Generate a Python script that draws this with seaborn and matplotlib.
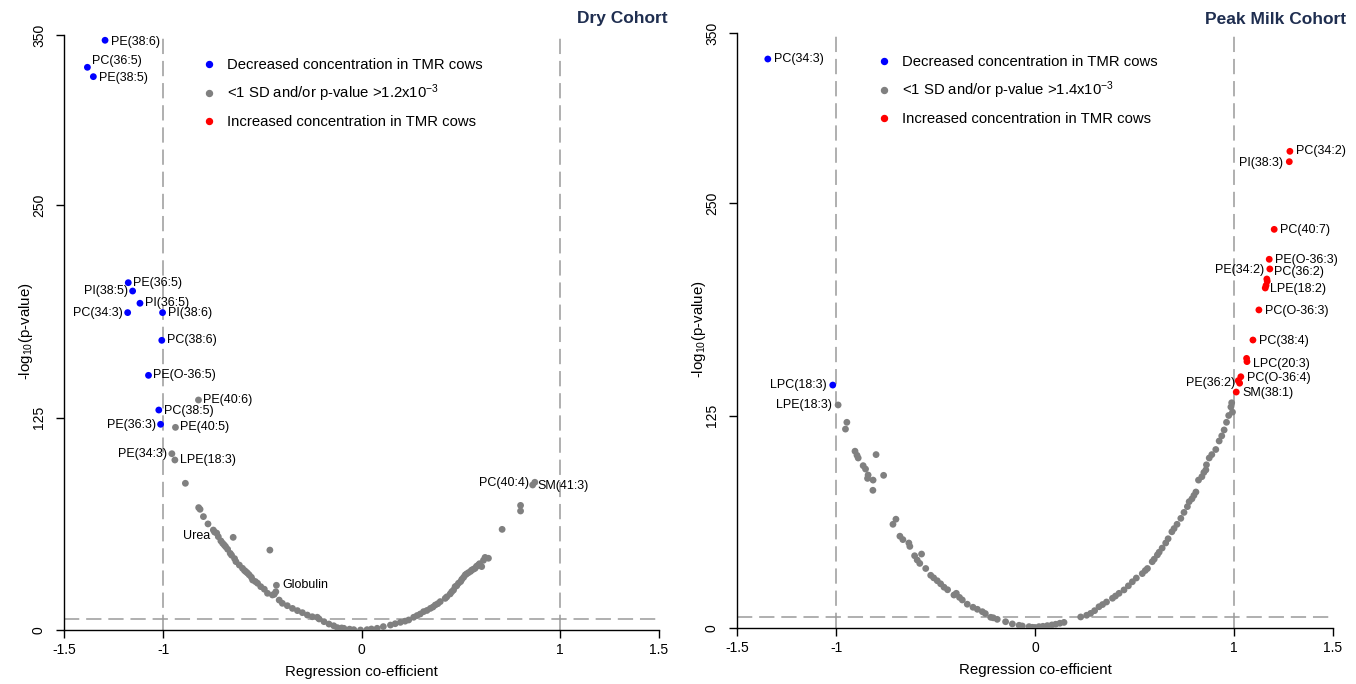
import numpy as np
import pandas as pd
import matplotlib
matplotlib.use('Agg')
import matplotlib.pyplot as plt
from matplotlib.lines import Line2D
import seaborn as sns

# ---- Dry cohort ----
dry_names = ["PE(38:6)", "PC(36:5)", "PE(38:5)", "PE(36:5)", "PI(38:5)", "PI(36:5)",
             "PC(34:3)", "PI(38:6)", "PC(38:6)", "PE(O-36:5)", "PC(38:5)", "PE(36:3)",
             "PE(40:6)", "PE(40:5)", "PE(34:3)", "LPE(18:3)", "Urea", "Globulin",
             "PC(40:4)", "SM(41:3)"]
dry_nx = [-1.293, -1.382, -1.352, -1.176, -1.154, -1.117, -1.179, -1.003, -1.007, -1.074,
          -1.022, -1.013, -0.822, -0.938, -0.956, -0.941, -0.741, -0.429, 0.863, 0.874]
dry_ny = [346.9, 331.0, 325.5, 204.3, 199.4, 192.2, 186.7, 186.7, 170.4, 149.8,
          129.4, 121.0, 135.3, 119.2, 103.7, 100.0, 57.6, 26.3, 85.3, 86.9]
dry_ngroup = ["down"] * 12 + ["ns"] * 8

dry_bg_x = [-0.888, -0.821, -0.814, -0.797, -0.774, -0.747, -0.73, -0.722, -0.709, -0.70,
            -0.692, -0.685, -0.675, -0.662, -0.655, -0.647, -0.64, -0.633, -0.616, -0.60,
            -0.59, -0.583, -0.575, -0.566, -0.555, -0.549, -0.535, -0.524, -0.508, -0.49,
            -0.474, -0.462, -0.449, -0.44, -0.432, -0.415, -0.399, -0.374, -0.348, -0.323,
            -0.298, -0.273, -0.248, -0.223, -0.214, -0.189, -0.164, -0.14, -0.122, -0.10,
            -0.089, -0.06, -0.039, -0.005, 0.028, 0.05, 0.079, 0.11, 0.146, 0.17,
            0.196, 0.22, 0.238, 0.263, 0.28, 0.296, 0.313, 0.33, 0.347, 0.36,
            0.372, 0.385, 0.397, 0.422, 0.43, 0.447, 0.455, 0.464, 0.472, 0.48,
            0.489, 0.50, 0.506, 0.515, 0.523, 0.53, 0.539, 0.55, 0.556, 0.565,
            0.573, 0.58, 0.589, 0.595, 0.606, 0.615, 0.623, 0.640, 0.709, 0.802, 0.802]
dry_bg_y = [86.3, 72.0, 71.0, 66.7, 62.4, 58.8, 57.0, 54.9, 52.4, 51.0,
            50.0, 49.0, 47.5, 45.1, 44.0, 54.5, 42.0, 40.2, 38.2, 36.3,
            35.0, 34.3, 33.5, 32.4, 31.0, 29.4, 28.5, 27.5, 25.5, 24.0,
            21.6, 47.0, 20.6, 21.0, 22.5, 17.6, 15.7, 14.3, 12.7, 11.4,
            10.2, 8.8, 7.8, 7.5, 6.5, 4.9, 3.5, 2.5, 1.4, 1.2,
            1.0, 0.5, 0.2, 0.0, 0.2, 0.6, 1.0, 2.0, 2.9, 3.7,
            4.5, 5.2, 5.9, 7.5, 8.5, 9.4, 10.8, 11.5, 12.7, 13.5,
            14.7, 15.5, 16.7, 18.6, 19.5, 21.2, 22.5, 23.5, 25.5, 26.0,
            27.5, 28.5, 29.8, 31.0, 32.4, 33.0, 33.7, 34.5, 35.3, 35.8,
            36.3, 37.5, 38.2, 39.0, 37.3, 41.0, 42.7, 42.2, 59.2, 73.3, 70.0]

# ---- Peak milk cohort ----
pm_names = ["PC(34:3)", "LPC(18:3)", "LPE(18:3)", "PC(34:2)", "PI(38:3)", "PC(40:7)",
            "PE(O-36:3)", "PE(34:2)", "PC(36:2)", "LPE(18:2)", "PC(O-36:3)", "PC(38:4)",
            "LPC(20:3)", "PC(O-36:4)", "PE(36:2)", "SM(38:1)"]
pm_nx = [-1.345, -1.018, -0.991, 1.283, 1.280, 1.204, 1.179, 1.167, 1.182, 1.159,
         1.127, 1.097, 1.067, 1.036, 1.023, 1.013]
pm_ny = [334.7, 142.9, 131.2, 280.4, 274.3, 234.5, 216.9, 205.3, 211.2, 200.0,
         187.1, 169.4, 156.7, 147.8, 145.5, 138.8]
pm_ngroup = ["down", "down", "ns"] + ["up"] * 13

# extra (unlabelled) significant points
pm_up_x = [1.065, 1.030, 1.163, 1.169]
pm_up_y = [158.6, 144.0, 201.5, 204.0]

pm_bg_x = [-0.947, -0.954, -0.906, -0.896, -0.890, -0.800, -0.865, -0.853, -0.840, -0.843,
           -0.815, -0.762, -0.816, -0.700, -0.715, -0.680, -0.665, -0.635, -0.630, -0.606,
           -0.593, -0.58, -0.571, -0.55, -0.525, -0.51, -0.492, -0.475, -0.458, -0.44,
           -0.408, -0.396, -0.38, -0.366, -0.341, -0.312, -0.29, -0.265, -0.25, -0.223,
           -0.21, -0.190, -0.148, -0.114, -0.08, -0.064, -0.03, -0.013, 0.0, 0.020,
           0.04, 0.062, 0.085, 0.104, 0.125, 0.146, 0.230, 0.26, 0.280, 0.30,
           0.322, 0.34, 0.36, 0.390, 0.405, 0.423, 0.448, 0.47, 0.490, 0.51,
           0.540, 0.555, 0.566, 0.590, 0.60, 0.616, 0.625, 0.640, 0.658, 0.67,
           0.689, 0.70, 0.715, 0.734, 0.75, 0.767, 0.776, 0.79, 0.80, 0.810,
           0.823, 0.84, 0.85, 0.860, 0.863, 0.877, 0.89, 0.910, 0.927, 0.94,
           0.952, 0.964, 0.975, 0.986, 0.990, 0.994]
pm_bg_y = [121.0, 117.0, 104.0, 101.6, 100.0, 102.0, 95.5, 93.5, 90.0, 88.0,
           87.0, 89.8, 81.0, 64.0, 61.0, 54.0, 52.0, 50.0, 48.0, 42.5,
           40.0, 38.0, 43.5, 35.0, 31.0, 29.5, 27.8, 26.0, 24.0, 22.5,
           19.4, 20.4, 18.0, 16.5, 14.0, 12.2, 11.0, 9.6, 8.5, 6.3,
           6.0, 5.1, 3.7, 2.4, 1.6, 1.2, 0.8, 0.4, 0.3, 0.8,
           1.0, 1.4, 1.8, 2.2, 2.8, 3.3, 6.5, 7.5, 8.6, 10.2,
           12.5, 13.8, 15.3, 17.5, 18.8, 20.4, 22.4, 24.8, 27.2, 29.4,
           32.0, 33.8, 35.0, 39.0, 40.5, 43.0, 44.6, 47.0, 50.0, 52.5,
           56.6, 58.5, 61.0, 64.5, 68.0, 71.4, 74.3, 76.0, 78.0, 80.0,
           87.0, 89.0, 91.5, 93.0, 96.0, 100.0, 102.0, 105.0, 110.0, 113.0,
           116.5, 121.0, 125.0, 130.0, 132.5, 127.0]

# label offsets in pixels (dx, dy)
dry_offsets = [(6, -2), (5, 6), (6, -1), (5, 0), (-5, 0), (5, 0), (-5, 0), (5, 0), (5, 0),
               (5, 0), (5, -1), (-5, -1), (5, 0), (5, 0), (-5, 0), (5, 0), (-4, -4), (6, 0),
               (-4, 2), (3, -4)]
pm_offsets = [(6, 0), (-6, 0), (-6, 0), (6, 0), (-6, -1), (6, -1), (6, -1), (-3, 9), (4, -3),
              (5, -1), (6, -1), (6, -1), (6, -2), (6, -1), (-3, -2), (6, -1)]

xticks = [-1.5, -1, 0, 1, 1.5]
xtick_labels = ["-1.5", "-1", "0", "1", "1.5"]
yticks = [0, 125, 250, 350]

sns.set_theme(style="ticks", rc={"text.color": "black", "axes.labelcolor": "black",
                                 "xtick.color": "black", "ytick.color": "black",
                                 "axes.edgecolor": "black"})
plt.rcParams['font.family'] = ['Liberation Sans', 'DejaVu Sans']
plt.rcParams['mathtext.fontset'] = 'custom'
plt.rcParams['mathtext.rm'] = 'Liberation Sans'
plt.rcParams['mathtext.it'] = 'Liberation Sans:italic'

palette = {"ns": "#808080", "down": "#0000FF", "up": "#FF0000"}
dash = (0, (10, 4.5))


def draw_panel(ax, bg_x, bg_y, names, nx, ny, ngroup, offsets, title, title_x,
               thresh_text, leg_anchor, extra_x=(), extra_y=(), extra_group="up"):
    df = pd.DataFrame({
        "coef": list(bg_x) + list(nx) + list(extra_x),
        "logp": list(bg_y) + list(ny) + list(extra_y),
        "group": ["ns"] * len(bg_x) + list(ngroup) + [extra_group] * len(extra_x),
    })
    df["order"] = df["group"].map({"ns": 0, "down": 1, "up": 1})
    df = df.sort_values("order", kind="stable")

    ax.axvline(-1, color="#9a9a9a", lw=1.1, ls=dash, zorder=0)
    ax.axvline(1, color="#9a9a9a", lw=1.1, ls=dash, zorder=0)
    ax.axhline(6.3, color="#9a9a9a", lw=1.1, ls=dash, zorder=0)

    sns.scatterplot(data=df, x="coef", y="logp", hue="group", palette=palette,
                    s=24, linewidth=0, legend=False, ax=ax, zorder=3)

    for name, x, y, (dx, dy) in zip(names, nx, ny, offsets):
        ax.annotate(name, (x, y), xytext=(dx, dy), textcoords="offset pixels",
                    ha="left" if dx > 0 else "right", va="center", fontsize=9)

    ax.set_xlim(-1.5, 1.5)
    ax.set_ylim(0, 352)
    ax.set_xticks(xticks)
    ax.set_xticklabels(xtick_labels)
    ax.set_yticks(yticks)
    ax.set_yticklabels([str(t) for t in yticks], rotation=90, va="center")
    ax.tick_params(axis="both", labelsize=10, length=6, width=1, direction="out")
    ax.tick_params(axis="y", pad=7)
    ax.tick_params(axis="x", pad=3)
    sns.despine(ax=ax)
    ax.spines["left"].set_bounds(0, 350)
    for sp in ("left", "bottom"):
        ax.spines[sp].set_linewidth(1)
        ax.spines[sp].set_color("black")
    ax.grid(False)

    ax.set_xlabel("Regression co-efficient", fontsize=10.8)
    ax.set_ylabel(r"-log$_{10}$(p-value)", fontsize=10.8)
    ax.xaxis.set_label_coords(0.5, -0.058)
    ax.yaxis.set_label_coords(-0.049, 0.5)

    handles = [Line2D([], [], marker="o", ls="", color=palette[g], markersize=4.3)
               for g in ("down", "ns", "up")]
    labels = ["Decreased concentration in TMR cows", thresh_text,
              "Increased concentration in TMR cows"]
    ax.legend(handles, labels, loc="upper left", bbox_to_anchor=leg_anchor,
              frameon=False, fontsize=10.7, handlelength=1.0, handletextpad=0.69,
              labelspacing=0.72, borderpad=0, borderaxespad=0)

    fig.text(title_x, 1 - 19 / 684, title, ha="right", va="center",
             fontsize=12.5, fontweight="bold", color="#1F2E50")


fig = plt.figure(figsize=(13.56, 6.84), dpi=100)
ax1 = fig.add_axes([64 / 1356, 54 / 684, 595 / 1356, 598.4 / 684])
ax2 = fig.add_axes([737 / 1356, 56 / 684, 596 / 1356, 598.4 / 684])

draw_panel(ax1, dry_bg_x, dry_bg_y, dry_names, dry_nx, dry_ny, dry_ngroup, dry_offsets,
           "Dry Cohort", 668 / 1356, r"<1 SD and/or p-value >1.2x10$^{-3}$", (0.2317, 0.956))
draw_panel(ax2, pm_bg_x, pm_bg_y, pm_names, pm_nx, pm_ny, pm_ngroup, pm_offsets,
           "Peak Milk Cohort", 1346 / 1356, r"<1 SD and/or p-value >1.4x10$^{-3}$", (0.234, 0.958),
           extra_x=pm_up_x, extra_y=pm_up_y)

fig.savefig("out.png", dpi=100)
